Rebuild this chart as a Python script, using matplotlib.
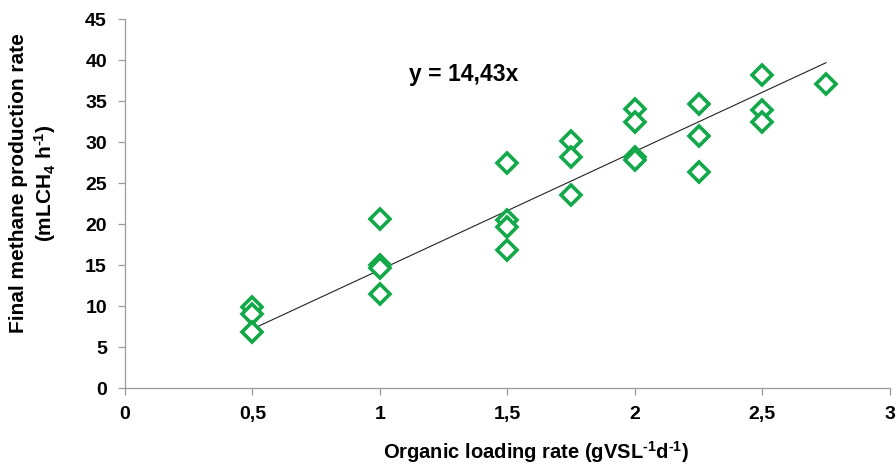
import matplotlib.pyplot as plt
import numpy as np

# loading rate (gVS/L/d) and final methane production rate (mL CH4/h)
olr = [0.5, 0.5, 0.5,
       1.0, 1.0, 1.0, 1.0,
       1.5, 1.5, 1.5, 1.5,
       1.75, 1.75, 1.75,
       2.0, 2.0, 2.0, 2.0,
       2.25, 2.25, 2.25,
       2.5, 2.5, 2.5,
       2.75]
methane = [9.9, 9.0, 6.9,
           20.6, 15.0, 14.7, 11.5,
           27.5, 20.5, 19.6, 16.9,
           30.1, 28.2, 23.5,
           34.0, 32.5, 28.2, 27.8,
           34.6, 30.8, 26.3,
           38.2, 33.9, 32.5,
           37.1]
slope = 14.43
x_ticks = [0, 0.5, 1, 1.5, 2, 2.5, 3]
x_ticklabels = ['0', '0,5', '1', '1,5', '2', '2,5', '3']
y_ticks = list(range(0, 46, 5))

plt.rcParams['font.family'] = ['Liberation Sans', 'DejaVu Sans']
plt.rcParams['mathtext.fontset'] = 'custom'
plt.rcParams['mathtext.rm'] = 'Liberation Sans:bold'
plt.rcParams['mathtext.default'] = 'rm'

GREEN = '#13a84a'
GRAY = '#9a9a9a'
HY = '\u2010'  # plain hyphen in the superscripts, not a minus sign

fig = plt.figure(figsize=(8.96, 4.66), dpi=100)
ax = fig.add_axes([0.1395, 0.167, 0.8535, 0.792])

xfit = np.array([min(olr), max(olr)])
ax.plot(xfit, slope * xfit, color='#222222', lw=0.8, zorder=1)
ax.plot(olr, methane, linestyle='none', marker='D', markersize=10.5,
        markerfacecolor='white', markeredgecolor=GREEN, markeredgewidth=2.6, zorder=2)

ax.set_xlim(0, 3)
ax.set_ylim(0, 45)
ax.set_xticks(x_ticks)
ax.set_xticklabels(x_ticklabels, fontsize=14, fontweight='bold')
ax.set_yticks(y_ticks)
ax.set_yticklabels([str(v) for v in y_ticks], fontsize=14, fontweight='bold')

for s in ['top', 'right']:
    ax.spines[s].set_visible(False)
for s in ['left', 'bottom']:
    ax.spines[s].set_color(GRAY)
    ax.spines[s].set_linewidth(0.9)
ax.tick_params(axis='both', color=GRAY, length=5, width=0.9, direction='out')
ax.tick_params(axis='x', pad=8)
ax.tick_params(axis='y', pad=8)

ax.set_xlabel('Organic loading rate (gVSL$^{' + HY + '1}$d$^{' + HY + '1}$)',
              fontsize=14.5, fontweight='bold')
ax.xaxis.set_label_coords(0.537, -0.137)
ax.set_ylabel('Final methane production rate\n(mLCH$_4$ h$^{' + HY + '1}$)', fontsize=15,
              fontweight='bold', linespacing=1.25)
ax.yaxis.set_label_coords(-0.087, 0.555)

ax.text(1.33, 38.2, 'y = 14,43x', fontsize=16.5, fontweight='bold', ha='center', va='center')

fig.savefig('out.png', dpi=100)
